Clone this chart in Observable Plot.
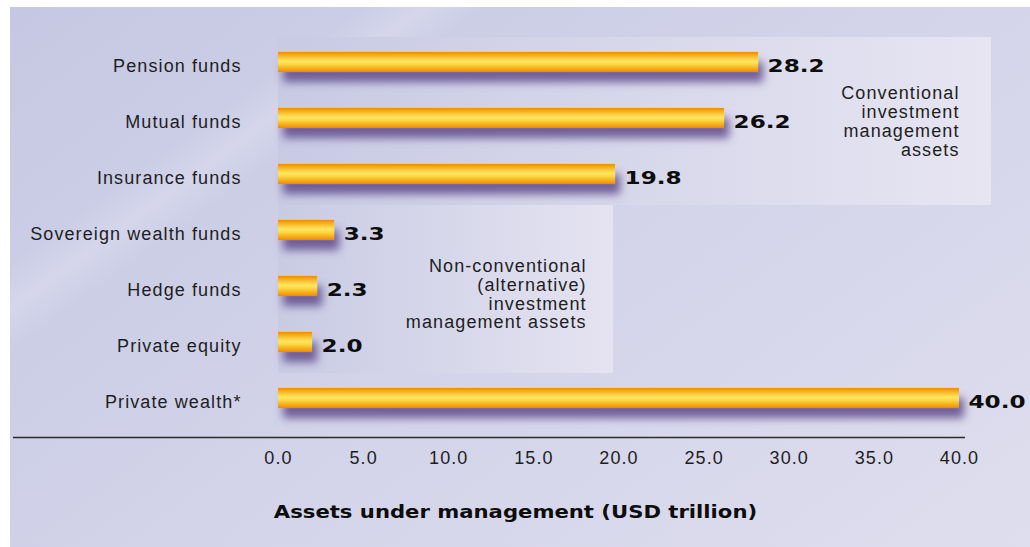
<!DOCTYPE html>
<html><head><meta charset="utf-8">
<script src="https://cdn.jsdelivr.net/npm/d3@7"></script>
<script src="https://cdn.jsdelivr.net/npm/@observablehq/plot@0.6"></script>
<style>
html,body{margin:0;padding:0;background:#fff;}
#chart{position:absolute;left:10px;top:7px;width:1020px;height:540px;}
#chart text{letter-spacing:1.1px;}
#chart g[font-weight="bold"] text{letter-spacing:0;}
</style></head><body><div id="chart"></div>
<script>
// ---- data ----
const categories = ["Pension funds","Mutual funds","Insurance funds","Sovereign wealth funds","Hedge funds","Private equity","Private wealth*"];
const values = [28.2, 26.2, 19.8, 3.3, 2.3, 2.0, 40.0];
const xTicks = [0, 5, 10, 15, 20, 25, 30, 35, 40];
const conventionalGroup = ["Pension funds","Mutual funds","Insurance funds"];
const alternativeGroup = ["Sovereign wealth funds","Hedge funds","Private equity"];
const conventionalNote = "Conventional\ninvestment\nmanagement\nassets";
const alternativeNote = "Non-conventional\n(alternative)\ninvestment\nmanagement assets";
const axisTitle = "Assets under management (USD trillion)";

const rows = categories.map((c, i) => ({category: c, value: values[i]}));

const bodyFont = "'Liberation Sans', Arial, Helvetica, sans-serif";
const heavyFont = "'DejaVu Sans', sans-serif";

const svg = Plot.plot({
  width: 1020,
  height: 540,
  marginLeft: 3,
  marginRight: 65,
  marginTop: 27,
  marginBottom: 110,
  style: {
    fontFamily: bodyFont,
    fontSize: "18px",
    color: "#1e1e1e",
    background: "linear-gradient(144deg, #c6c8e3 0%, #cbcde6 20%, #d5d6ec 23.5%, #cccee6 27%, #d4d4ea 55%, #dfdeee 100%)",
    overflow: "visible"
  },
  x: {domain: [0, 40], range: [268, 949], ticks: xTicks, tickFormat: d => d.toFixed(1), tickSize: 0, tickPadding: 14, label: null},
  y: {domain: categories, range: [27, 419], paddingInner: 0.64, paddingOuter: 0.32, round: false, axis: null},
  marks: [
    Plot.barX(conventionalGroup, {y: d => d, x1: () => 0, x2: () => 41.9, insetTop: -15, insetBottom: -21, fill: "url(#boxGradA)", shapeRendering: "crispEdges"}),
    Plot.barX(alternativeGroup, {y: d => d, x1: () => 0, x2: () => 19.7, insetTop: -15, insetBottom: -21, fill: "url(#boxGradB)", shapeRendering: "crispEdges"}),
    Plot.barX(rows, {x: "value", y: "category", fill: "url(#barGrad)"}),
    Plot.text(rows, {x: "value", y: "category", text: d => d.value.toFixed(1), textAnchor: "start", dx: 9, dy: 4, fontFamily: heavyFont, fontWeight: "bold", fontSize: 17, fill: "#0d0d0d"}),
    Plot.text(rows, {x: () => 0, y: "category", text: "category", textAnchor: "end", dx: -37, dy: 4, fill: "#1e1e1e"}),
    Plot.text([conventionalNote], {x: () => 40, y: () => "Mutual funds", text: d => d, textAnchor: "end", lineAnchor: "middle", lineHeight: 1.04, dy: 3, fill: "#1e1e1e"}),
    Plot.text([alternativeNote], {x: () => 18.1, y: () => "Hedge funds", text: d => d, textAnchor: "end", lineAnchor: "middle", lineHeight: 1.05, dy: 7.5, fill: "#1e1e1e"}),
    Plot.ruleY(["Private wealth*"], {y: d => d, dy: 39, stroke: "#2a2a2a", strokeWidth: 1.6}),
    Plot.text([axisTitle], {frameAnchor: "bottom", text: d => d, lineAnchor: "middle", dx: 26, dy: 75, fontFamily: heavyFont, fontWeight: "bold", fontSize: 17.5, fill: "#0d0d0d"})
  ]
});

// gradients and shadow definitions
const defs = d3.select(svg).insert("defs", ":first-child");
defs.html(`
  <linearGradient id="barGrad" x1="0" y1="0" x2="0" y2="1">
    <stop offset="0%" stop-color="#f08a00"/>
    <stop offset="18%" stop-color="#f7b221"/>
    <stop offset="45%" stop-color="#ffe660"/>
    <stop offset="58%" stop-color="#fedc4c"/>
    <stop offset="85%" stop-color="#f6a914"/>
    <stop offset="100%" stop-color="#ef8800"/>
  </linearGradient>
  <linearGradient id="boxGradA" x1="0" y1="0" x2="1" y2="0">
    <stop offset="0%" stop-color="#c8cae4"/>
    <stop offset="100%" stop-color="#e7e5f2"/>
  </linearGradient>
  <linearGradient id="boxGradB" x1="0" y1="0" x2="1" y2="0">
    <stop offset="0%" stop-color="#c9cbe4"/>
    <stop offset="100%" stop-color="#e5e3f1"/>
  </linearGradient>
  <filter id="barShadow" x="-5%" y="-10%" width="115%" height="140%">
    <feDropShadow dx="5" dy="10" stdDeviation="4.5" flood-color="#5e4b8a" flood-opacity="0.85"/>
  </filter>
`);
d3.select(svg).selectAll('g[fill="url(#barGrad)"]').attr("filter", "url(#barShadow)");

// horizontally widen the heavy (extended-style) labels
function stretch(sel, sx) {
  sel.each(function() {
    const t = this;
    const tr = t.getAttribute("transform");
    const x = t.getAttribute("x");
    if (tr) t.setAttribute("transform", `${tr} scale(${sx},1)`);
    else if (x != null) t.setAttribute("transform", `translate(${x},0) scale(${sx},1) translate(${-x},0)`);
    else t.setAttribute("transform", `scale(${sx},1)`);
  });
}
stretch(d3.select(svg).selectAll('g[font-weight="bold"][font-size="17"] text'), 1.36);
stretch(d3.select(svg).selectAll('g[font-weight="bold"][font-size="17.5"] text'), 1.21);

document.getElementById("chart").appendChild(svg);
</script>
</body></html>
